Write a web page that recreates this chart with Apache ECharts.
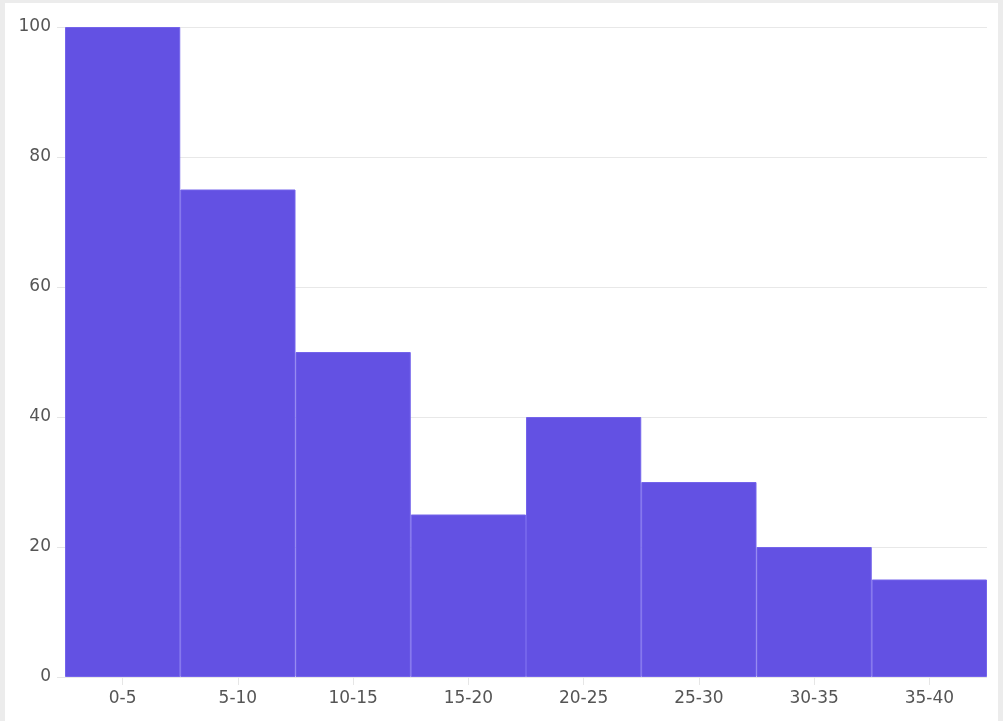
<!DOCTYPE html>
<html>
<head>
<meta charset="utf-8">
<script src="https://cdn.jsdelivr.net/npm/echarts@6/dist/echarts.min.js"></script>
<style>
  html, body { margin: 0; padding: 0; background: #ececec; width: 1003px; height: 721px; overflow: hidden; }
  #hist { position: absolute; left: 5px; top: 3px; width: 993px; height: 718px; background: #fff; }
</style>
</head>
<body>
<div id="hist"></div>
<script>
var bins = ['0-5', '5-10', '10-15', '15-20', '20-25', '25-30', '30-35', '35-40'];
var counts = [100, 75, 50, 25, 40, 30, 20, 15];
var yTicks = [0, 20, 40, 60, 80, 100];

var myChart = echarts.init(document.getElementById('hist'));
option = {
    animation: false,
    textStyle: { fontFamily: 'DejaVu Sans' },
    grid: {
        left: 60,
        right: 11,
        top: 24,
        bottom: 44
    },
    xAxis: {
        type: 'category',
        data: bins,
        axisLine: { show: false },
        axisTick: { show: true, alignWithLabel: true, length: 8, lineStyle: { color: '#e6e6e6' } },
        axisLabel: { color: '#555', fontSize: 17, margin: 13 }
    },
    yAxis: {
        type: 'value',
        min: yTicks[0],
        max: yTicks[yTicks.length - 1],
        interval: 20,
        axisLine: { show: false },
        axisTick: { show: true, length: 8, lineStyle: { color: '#e6e6e6' } },
        axisLabel: { color: '#555', fontSize: 17, margin: 14, padding: [4, 0, 0, 0] },
        splitLine: { lineStyle: { color: '#e8e8e8' } }
    },
    series: [
        {
            type: 'bar',
            data: counts,
            barCategoryGap: 0,
            itemStyle: {
                color: '#6351e3',
                borderColor: '#7464eb',
                borderWidth: 1
            }
        }
    ]
};
myChart.setOption(option);
</script>
</body>
</html>
